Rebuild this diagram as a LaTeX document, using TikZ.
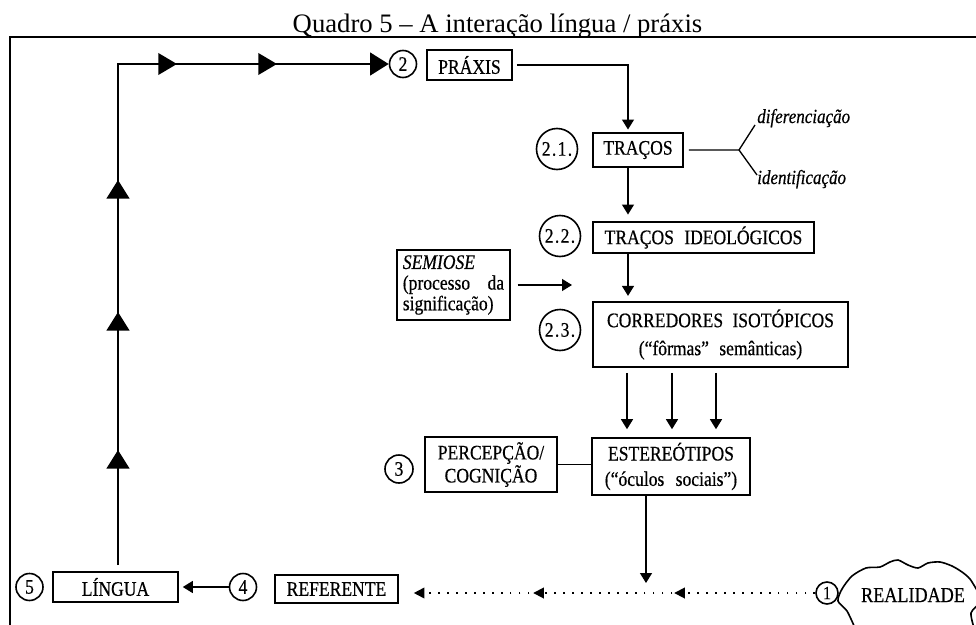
\documentclass[tikz,border=0pt]{standalone}
\usepackage{fontspec}
\setmainfont{Liberation Serif}
\newfontfamily\boxfont{Liberation Serif}[FakeStretch=0.85, FakeBold=0.5]
\usetikzlibrary{arrows.meta,decorations.markings,calc}

\tikzset{
  box/.style={draw, line width=1.2pt, inner sep=0pt, align=center},
  sz/.style n args={2}{minimum width={#1*0.75pt}, minimum height={#2*0.75pt}},
  num/.style={draw, circle, line width=1.2pt, inner sep=0pt, minimum size={#1*1.5pt}},
  conn/.style={line width=1pt, -{Triangle[length=7.5pt,width=9pt]}},
  plain/.style={line width=1pt},
  bigtip/.style={-{Triangle[length=14pt,width=17pt]}},
  heavy/.style={line width=2pt},
  dotline/.style={line width=1.3pt, dash pattern=on 1.3pt off 5.4pt},
  tag/.style={font=\boxfont\fontsize{15}{17}\selectfont\itshape, anchor=base west, inner sep=0pt},
}

\begin{document}
\begin{tikzpicture}[x=0.75pt,y=-0.75pt,
  every node/.style={font=\boxfont\fontsize{15.5}{18}\selectfont}]
\useasboundingbox (0,0) rectangle (976,625);

% title and frame
\node[font=\rmfamily\fontsize{20}{24}\selectfont, anchor=base, inner sep=0pt] (title) at (497.5,32)
  {Quadro 5 – A interação língua / práxis};
\draw[line width=2pt] (10,625) -- (10,37) -- (976,37);

% boxes
\node[box, sz={85}{30}] (praxis) at (469.5,65) {PRÁXIS};
\node[box, sz={90}{34}] (tracos) at (638,150) {TRAÇOS};
\node[box, sz={221}{31}] (ideol) at (703.5,237.5) {TRAÇOS\hspace{0.5em}IDEOLÓGICOS};
\node[box, sz={255}{65}, font=\boxfont\fontsize{15.5}{21}\selectfont] (corr) at (720.5,334.5)
  {CORREDORES\hspace{0.45em}ISOTÓPICOS\\(“fôrmas”\hspace{0.5em}semânticas)};
\node[box, sz={113}{70}, align=left, text width=76pt, inner xsep=4.5pt,
      font=\boxfont\fontsize{15.5}{15.5}\selectfont] (semiose) at (453.5,285)
  {\textit{SEMIOSE}\\(processo\hfill da\\significação)};
\node[box, sz={158}{57}, font=\boxfont\fontsize{15.5}{19}\selectfont] (estereo) at (671,466.5)
  {ESTEREÓTIPOS\\(“óculos\hspace{0.55em}sociais”)};
\node[box, sz={132}{55}, font=\boxfont\fontsize{15.5}{15}\selectfont] (percep) at (491,464.5)
  {PERCEPÇÃO/\\COGNIÇÃO};
\node[box, sz={125}{30}] (lingua) at (115.5,587) {LÍNGUA};
\node[box, sz={123}{28}] (referente) at (336.5,589) {REFERENTE};

% numbered circles
\node[num=13.5] (c2) at (403,64) {2};
\node[num=20.5] (c21) at (557,149) {2\kern1pt.\kern1pt1\kern1pt.};
\node[num=20.5] (c22) at (560,236) {2\kern1pt.\kern1pt2\kern1pt.};
\node[num=20.5] (c23) at (560,330) {2\kern1pt.\kern1pt3\kern1pt.};
\node[num=14] (c3) at (399,469) {3};
\node[num=13.5] (c5) at (29.5,587) {5};
\node[num=13.5] (c4) at (243,587) {4};
\node[num=11, font=\boxfont\fontsize{14}{16}\selectfont] (c1) at (827,593) {1};

% REALIDADE cloud
\draw[line width=1.2pt] plot[smooth, tension=0.45] coordinates {
  (855,628) (847,611) (838,601) (842,589) (852,576) (866,568) (880,567)
  (890,562) (898,560) (908,565) (918,568) (928,563) (940,562) (952,566)
  (962,572) (970,579) (978,592)};
\draw[line width=1.2pt] plot[smooth, tension=0.45] coordinates {
  (979,604) (971,613) (974,628)};
\node[inner sep=0pt, font=\boxfont\fontsize{16}{18}\selectfont] (realidade) at (913,595) {REALIDADE};

% main loop LÍNGUA -> PRÁXIS
\coordinate (rise) at (118,565);
\draw[heavy, bigtip, postaction={decorate}, decoration={markings,
    mark=at position 86.25pt with {\arrow{Triangle[length=14pt,width=17pt]}},
    mark=at position 189.75pt with {\arrow{Triangle[length=14pt,width=17pt]}},
    mark=at position 288.75pt with {\arrow{Triangle[length=14pt,width=17pt]}},
    mark=at position 420pt with {\arrow{Triangle[length=14pt,width=16pt]}},
    mark=at position 495pt with {\arrow{Triangle[length=14pt,width=16pt]}}}]
  (rise) |- (c2.west);

% vertical chain
\coordinate (spine) at (628,0);
\draw[conn, shorten <=3pt, shorten >=2pt] (praxis.east) -| (tracos.north -| spine);
\draw[conn, shorten >=5pt] (tracos.south -| spine) -- (ideol.north -| spine);
\draw[conn, shorten >=4pt] (ideol.south -| spine) -- (corr.north -| spine);

% TRAÇOS fork
\coordinate (fork) at (739,150);
\coordinate (forkup) at (755,125);
\coordinate (forkdown) at (757,175);
\draw[plain, shorten <=3.75pt] (tracos.east) -- (fork) -- (forkup);
\draw[plain] (fork) -- (forkdown);
\node[tag] (dif) at (757,123) {diferenciação};
\node[tag] (ident) at (757,184) {identificação};

% SEMIOSE arrow
\coordinate (semend) at (572,285);
\draw[conn, shorten <=5pt] (semiose.east) -- (semend);

% three arrows into ESTEREÓTIPOS
\foreach \xx in {627,672,716} {
  \coordinate (col) at (\xx,0);
  \draw[conn, shorten <=3.75pt, shorten >=6pt] (corr.south -| col) -- (estereo.north -| col);
}

% PERCEPÇÃO -- ESTEREÓTIPOS
\draw[plain] (percep.east) -- (percep.east -| estereo.west);

% ESTEREÓTIPOS drop
\coordinate (drop) at (646,583);
\coordinate (dropx) at (646,0);
\draw[conn] (estereo.south -| dropx) -- (drop);

% bottom row
\draw[conn, shorten >=3pt] (c4.west) -- (lingua.east);
\coordinate (refend) at ($(referente.east)+(15,4)$);
\draw[dotline, -{Triangle[length=8pt,width=8pt]}, postaction={decorate}, decoration={markings,
    mark=at position 105.75pt with {\arrow{Triangle[length=8pt,width=8pt]}},
    mark=at position 211.5pt with {\arrow{Triangle[length=8pt,width=8pt]}}}]
  (c1.west) -- (refend);
\end{tikzpicture}
\end{document}
